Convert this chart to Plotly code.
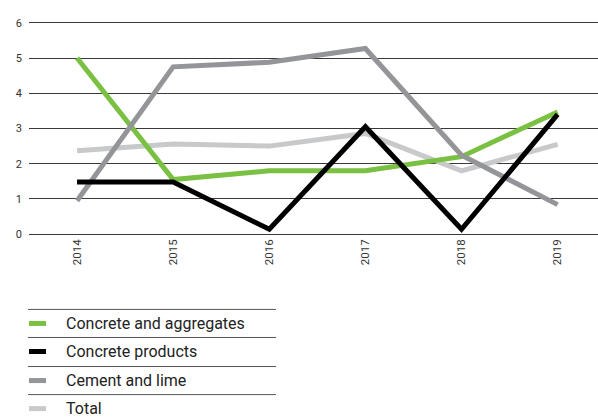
import plotly.graph_objects as go

years = ["2014", "2015", "2016", "2017", "2018", "2019"]
concrete_aggregates = [5.0, 1.55, 1.8, 1.8, 2.2, 3.47]
concrete_products = [1.48, 1.48, 0.14, 3.05, 0.14, 3.4]
cement_lime = [0.95, 4.75, 4.88, 5.27, 2.24, 0.84]
total = [2.37, 2.56, 2.5, 2.86, 1.8, 2.55]

names = ["Concrete and aggregates", "Concrete products", "Cement and lime", "Total"]
colors = ["#7ac143", "#000000", "#939598", "#c8c9cb"]
series = [concrete_aggregates, concrete_products, cement_lime, total]

W, H = 598, 418
unit = 211 / 6.0          # pixels per y unit
pad = 0.05                # range padding so edge gridlines are drawn
L, R = 29, 0
T = 23 - pad * unit
B = H - 234 - pad * unit
pw, ph = W - L - R, H - T - B

fig = go.Figure()
# draw order: total, green, gray, black
for idx in [3, 0, 2, 1]:
    fig.add_trace(go.Scatter(x=years, y=series[idx], mode="lines", name=names[idx],
                             line=dict(color=colors[idx], width=5), showlegend=False))

def px2x(px):
    return (px - L) / pw

def py2y(py):
    return (H - B - py) / ph

shapes = []
annotations = []
line_rows = [309, 337, 366, 394]
item_rows = [323, 351, 380, 408]
for py in line_rows:
    shapes.append(dict(type="line", xref="paper", yref="paper",
                       x0=px2x(28), x1=px2x(276), y0=py2y(py), y1=py2y(py),
                       line=dict(color="#555555", width=1)))
for i, (name, col) in enumerate(zip(names, colors)):
    cy = item_rows[i]
    shapes.append(dict(type="rect", xref="paper", yref="paper",
                       x0=px2x(29), x1=px2x(46), y0=py2y(cy + 2.5), y1=py2y(cy - 2.5),
                       fillcolor=col, line=dict(width=0)))
    annotations.append(dict(xref="paper", yref="paper", x=px2x(64), y=py2y(cy),
                            text=name, showarrow=False, xanchor="left", yanchor="middle",
                            font=dict(family="Roboto", size=16, color="#222222")))

fig.update_layout(
    width=W, height=H,
    margin=dict(l=L, r=R, t=T, b=B, pad=0),
    paper_bgcolor="white", plot_bgcolor="white",
    shapes=shapes, annotations=annotations,
    xaxis=dict(type="category", range=[-0.5, 5.42], showgrid=False, zeroline=False,
               showline=False, ticks="", tickangle=-90,
               tickfont=dict(family="Roboto", size=11.5, color="#333333")),
    yaxis=dict(range=[-pad, 6 + pad], dtick=1, tick0=0, showgrid=True, gridcolor="#3a3a3a",
               gridwidth=1, zeroline=False, showline=False, ticks="", ticklabelstandoff=6,
               tickfont=dict(family="Roboto", size=11, color="#333333")),
)

fig.write_html("out.html", config={"displayModeBar": False},
               post_script="document.body.style.margin='0';")
